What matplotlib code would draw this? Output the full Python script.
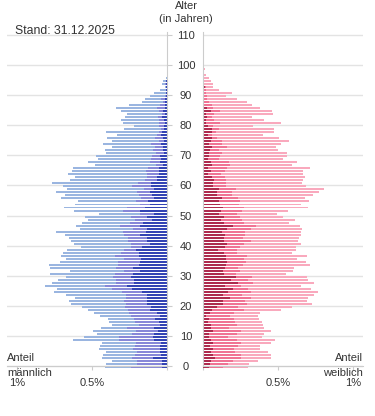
import numpy as np
import matplotlib
matplotlib.use('Agg')
import matplotlib.pyplot as plt

plt.rcParams['font.family'] = ['Liberation Sans', 'DejaVu Sans']

# shares in % of total population, one value per year of age
m_ages = np.arange(0, 97)
m_dark = [.033, .033, .033, .093, .040, .047, .047, .047, .040, .087,
          .093, .087, .060, .087, .047, .053, .080, .047, .067, .113,
          .107, .133, .133, .133, .133, .167, .233, .267, .220, .220,
          .240, .227, .180, .227, .187, .180, .173, .187, .187, .207,
          .167, .113, .133, .133, .180, .140, .133, .180, .160, .100,
          .133, .087, .180, .147, .113, .127, .087, .100, .113, .087,
          .107, .107, .067, .067, .053, .053, .053, .027, .047, .040,
          .047, .020, .027, .027, .040, .020, .027, .040, .033, .020,
          .020, .013, .020, .033, .013, .027, .013, .013, .013, .013,
          .007, .007, .005, .007, .007, .007, .002]
m_mid = [.207, .167, .167, .140, .173, .153, .180, .167, .167, .233,
         .227, .147, .147, .180, .140, .160, .140, .193, .187, .147,
         .173, .140, .153, .140, .140, .133, .133, .147, .120, .120,
         .120, .120, .107, .113, .140, .147, .113, .160, .120, .080,
         .073, .127, .127, .127, .107, .153, .093, .133, .087, .113,
         .107, .093, .113, .120, .067, .080, .087, .087, .087, .067,
         .127, .087, .080, .067, .080, .087, .073, .047, .067, .067,
         .053, .053, .067, .053, .067, .033, .053, .027, .020, .020,
         .033, .040, .033, .027, .020, .027, .053, .033, .013, .027,
         .007, .000, .003, .000, .007, .000, .000]
m_light = [.173, .207, .167, .200, .213, .207, .227, .233, .227, .307,
           .233, .233, .287, .173, .180, .173, .173, .207, .233, .267,
           .287, .367, .367, .340, .400, .453, .367, .400, .427, .387,
           .313, .433, .360, .440, .460, .387, .387, .360, .387, .380,
           .333, .380, .380, .393, .393, .447, .353, .293, .320, .313,
           .307, .273, .327, .420, .433, .387, .533, .493, .540, .513,
           .460, .573, .500, .480, .527, .493, .500, .407, .413, .353,
           .373, .333, .320, .287, .320, .313, .320, .267, .353, .247,
           .167, .240, .253, .220, .233, .253, .273, .207, .140, .107,
           .100, .080, .038, .009, .020, .020, .005]

f_ages = np.arange(0, 101)
f_dark = [.040, .046, .053, .079, .066, .053, .066, .046, .066, .053,
          .040, .040, .066, .053, .053, .033, .040, .020, .046, .060,
          .093, .132, .132, .179, .132, .166, .199, .146, .232, .185,
          .219, .139, .132, .146, .152, .159, .152, .152, .139, .099,
          .146, .159, .139, .139, .146, .126, .159, .199, .139, .119,
          .139, .106, .119, .132, .113, .106, .126, .093, .093, .106,
          .066, .066, .073, .060, .033, .053, .033, .060, .053, .033,
          .040, .040, .046, .060, .040, .053, .060, .033, .060, .060,
          .033, .020, .020, .026, .020, .053, .026, .007, .007, .000,
          .000, .007, .007, .013, .000, .000, .000, .000, .000, .000, .000]
f_mid = [.093, .119, .146, .172, .185, .159, .139, .185, .185, .172,
         .126, .185, .185, .119, .172, .179, .166, .159, .159, .212,
         .139, .159, .146, .139, .126, .152, .099, .106, .099, .113,
         .106, .079, .113, .086, .113, .126, .119, .139, .086, .126,
         .099, .113, .179, .126, .132, .152, .159, .152, .132, .139,
         .106, .119, .139, .139, .126, .139, .106, .099, .099, .113,
         .086, .086, .079, .086, .086, .093, .126, .119, .119, .073,
         .073, .086, .060, .099, .086, .073, .033, .026, .026, .046,
         .033, .093, .053, .033, .053, .060, .040, .053, .033, .026,
         .026, .013, .013, .007, .007, .004, .004, .002, .000, .000, .000]
f_light = [.166, .139, .166, .205, .205, .219, .172, .146, .205, .252,
           .225, .179, .205, .232, .172, .179, .166, .185, .172, .245,
           .364, .437, .417, .384, .483, .450, .424, .404, .411, .404,
           .371, .338, .358, .377, .450, .404, .358, .404, .371, .397,
           .377, .384, .318, .377, .377, .377, .344, .298, .305, .358,
           .285, .265, .311, .430, .417, .464, .450, .543, .583, .589,
           .536, .510, .517, .536, .550, .523, .556, .417, .457, .430,
           .444, .437, .397, .325, .397, .450, .411, .344, .384, .364,
           .265, .404, .331, .265, .391, .344, .311, .265, .252, .199,
           .126, .172, .086, .046, .060, .048, .035, .018, .005, .011, .007]

m_colors = ['#3343b4', '#8787d8', '#9ab5e0']
f_colors = ['#ad2b4e', '#f07394', '#f9a9bd']

fig = plt.figure(figsize=(3.75, 4.16), dpi=100)
ax1 = fig.add_axes([7/375, 0.113, 160/375, 0.8101])
ax2 = fig.add_axes([203/375, 0.113, 160/375, 0.8101])

h = 0.66
off = 0.33
md, mm, ml = np.array(m_dark), np.array(m_mid), np.array(m_light)
ax1.barh(m_ages - off, md, height=h, color=m_colors[0], lw=0)
ax1.barh(m_ages - off, mm, left=md, height=h, color=m_colors[1], lw=0)
ax1.barh(m_ages - off, ml, left=md + mm, height=h, color=m_colors[2], lw=0)

fd, fm, fl = np.array(f_dark), np.array(f_mid), np.array(f_light)
ax2.barh(f_ages - off, fd, height=h, color=f_colors[0], lw=0)
ax2.barh(f_ages - off, fm, left=fd, height=h, color=f_colors[1], lw=0)
ax2.barh(f_ages - off, fl, left=fd + fm, height=h, color=f_colors[2], lw=0)

xmax = 160 / 150
ax1.set_xlim(xmax, 0)
ax2.set_xlim(0, xmax)
yt = list(range(0, 111, 10))
tc = '#333333'
for ax in (ax1, ax2):
    ax.set_ylim(-1, 111)
    ax.set_yticks(yt)
    ax.grid(axis='y', color='#e3e3e3', lw=1)
    ax.set_axisbelow(True)
    ax.spines['top'].set_visible(False)
    ax.spines['bottom'].set_position(('data', 0))
    ax.spines['bottom'].set_color('#cccccc')
    ax.set_xticks([0, 0.5, 1.0])
    ax.set_xticklabels(['', '0.5%', '1%'])
    ax.tick_params(axis='x', length=3, color='#cccccc', pad=6,
                   labelsize=8, labelcolor=tc)

ax1.spines['left'].set_visible(False)
ax1.spines['right'].set_color('#cccccc')
ax1.spines['right'].set_bounds(0, 111)
ax1.yaxis.tick_right()
ax1.tick_params(axis='y', length=3.6, color='#cccccc', pad=10,
                labelsize=8, labelcolor=tc)
for lab in ax1.get_yticklabels():
    lab.set_ha('center')

ax2.spines['right'].set_visible(False)
ax2.spines['left'].set_color('#cccccc')
ax2.spines['left'].set_bounds(0, 111)
ax2.tick_params(axis='y', length=0, labelleft=False)

H = 416.0
W = 375.0
fig.text(15/W, 1 - 31/H, 'Stand: 31.12.2025', ha='left', va='center', fontsize=8.8, color=tc)
fig.text(186/W, 1 - 6/H, 'Alter', ha='center', va='center', fontsize=8, color=tc)
fig.text(186/W, 1 - 18.5/H, '(in Jahren)', ha='center', va='center', fontsize=8, color=tc)
fig.text(7/W, 1 - 358/H, 'Anteil', ha='left', va='center', fontsize=8, color=tc)
fig.text(7/W, 1 - 373/H, 'männlich', ha='left', va='center', fontsize=8, color=tc)
fig.text(363/W, 1 - 358/H, 'Anteil', ha='right', va='center', fontsize=8, color=tc)
fig.text(363/W, 1 - 373/H, 'weiblich', ha='right', va='center', fontsize=8, color=tc)

fig.savefig('out.png', dpi=100)
plt.close()
